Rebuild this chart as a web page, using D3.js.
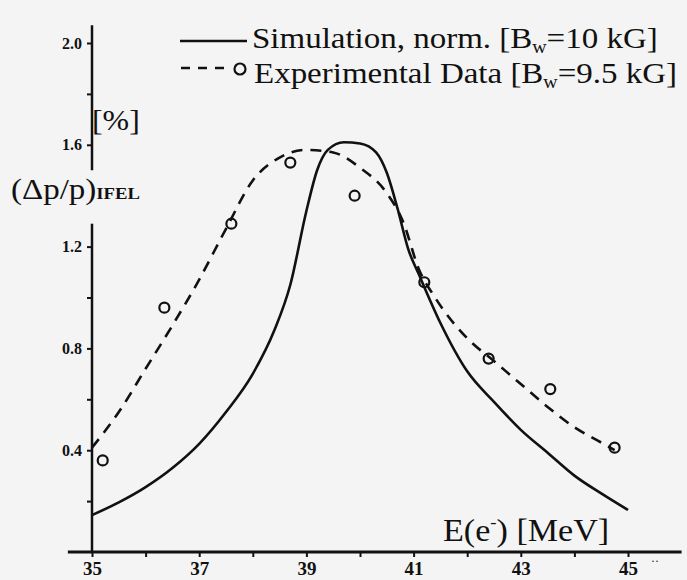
<!DOCTYPE html>
<html>
<head>
<meta charset="utf-8">
<script src="https://cdn.jsdelivr.net/npm/d3@7"></script>
<style>
    body { margin: 0; background: #f4f4f4; }
    svg { display: block; }
    text { font-family: "Liberation Serif", "Times New Roman", serif; fill: #111; }
</style>
</head>
<body>
<div id="chart"></div>
<script>
// --- DATA ---

// Simulation, normalised (solid line)
const simEnergy = [35.0, 35.5, 36.0, 36.5, 37.0, 37.5, 38.0, 38.4, 38.7, 39.0, 39.2, 39.4, 39.7, 40.0, 40.3, 40.5, 40.7, 40.9, 41.1, 41.5, 42.0, 42.5, 43.0, 43.5, 44.0, 44.5, 45.0];
const simGain   = [0.145, 0.195, 0.255, 0.33, 0.425, 0.55, 0.70, 0.87, 1.05, 1.34, 1.50, 1.58, 1.61, 1.605, 1.57, 1.49, 1.35, 1.19, 1.09, 0.90, 0.71, 0.59, 0.48, 0.39, 0.30, 0.23, 0.165];

// Fit through the experimental data (dashed line)
const fitEnergy = [35.0, 35.5, 36.0, 36.5, 37.0, 37.5, 38.0, 38.5, 39.0, 39.5, 40.0, 40.5, 40.8, 41.1, 41.4, 42.0, 42.5, 43.0, 43.5, 44.0, 44.5, 44.75];
const fitGain   = [0.41, 0.55, 0.72, 0.89, 1.07, 1.27, 1.46, 1.55, 1.58, 1.57, 1.51, 1.41, 1.30, 1.11, 1.00, 0.84, 0.75, 0.66, 0.57, 0.49, 0.43, 0.40];

// Experimental points (circles)
const expEnergy = [35.2, 36.35, 37.6, 38.7, 39.9, 41.2, 42.4, 43.55, 44.75];
const expGain   = [0.36, 0.96, 1.29, 1.53, 1.40, 1.06, 0.76, 0.64, 0.41];

// Tick values
const xTicks = [35, 36, 37, 38, 39, 40, 41, 42, 43, 44, 45];
const xLabels = [35, 37, 39, 41, 43, 45];
const yTicks = [0.2, 0.4, 0.6, 0.8, 1.0, 1.2, 1.4, 1.6, 1.8, 2.0];
const yLabels = [0.4, 0.8, 1.2, 1.6, 2.0];

// --- DRAWING ---

const width = 687, height = 580;
const bg = "#f4f4f4";
const ink = "#111";
const stretch = 1.1; // the scanned lettering is a bit wider than the font

const svg = d3.select("#chart").append("svg")
    .attr("width", width)
    .attr("height", height)
;
svg.append("rect").attr("width", width).attr("height", height).attr("fill", bg);

// Text placed at (px, py), widened horizontally like the scan
function wideText(px, py, size) {
    return svg.append("g")
        .attr("transform", "translate(" + px + "," + py + ") scale(" + stretch + ",1)")
        .append("text")
        .style("font-size", size + "px")
    ;
}

// Scales
const x = d3.scaleLinear().domain([35, 45]).range([92, 628]);
const y = d3.scaleLinear().domain([0, 2]).range([552, 43]);

// X axis
const xAxisG = svg.append("g")
    .attr("transform", "translate(0," + y(0) + ")")
    .call(d3.axisBottom(x)
        .tickValues(xTicks)
        .tickSize(5)
        .tickFormat(d => xLabels.includes(d) ? d : ""))
;
xAxisG.select(".domain").remove();
xAxisG.append("line")
    .attr("x1", x(34.55)).attr("x2", x(46.0))
    .attr("stroke", ink).attr("stroke-width", 3)
;
xAxisG.selectAll(".tick line").attr("stroke", ink).attr("stroke-width", 2);
xAxisG.selectAll(".tick text")
    .attr("y", 10)
    .attr("fill", ink)
    .style("font-size", "19px")
    .style("font-weight", "bold")
    .style("font-family", "'Liberation Serif', serif")
;

// Y axis
const yAxisG = svg.append("g")
    .attr("transform", "translate(" + x(35) + ",0)")
    .call(d3.axisLeft(y)
        .tickValues(yTicks)
        .tickSize(5)
        .tickFormat(d => yLabels.some(v => Math.abs(v - d) < 1e-6) ? d3.format(".1f")(d) : ""))
;
yAxisG.select(".domain").remove();
yAxisG.append("line")
    .attr("y1", y(0)).attr("y2", y(2.07))
    .attr("stroke", ink).attr("stroke-width", 2.5)
;
yAxisG.selectAll(".tick line").attr("stroke", ink).attr("stroke-width", 2);
yAxisG.selectAll(".tick text")
    .attr("x", -10)
    .attr("fill", ink)
    .style("font-size", "16px")
    .style("font-weight", "bold")
    .style("font-family", "'Liberation Serif', serif")
;

// Y axis title, its background cuts the axis line like in the scan
svg.append("rect")
    .attr("x", x(35) - 6).attr("y", y(1.5)).attr("width", 12).attr("height", y(1.29) - y(1.5))
    .attr("fill", bg)
;
const yTitle = wideText(11, 199, 30);
yTitle.append("tspan").text("(Δp/p)");
yTitle.append("tspan").text("IFEL")
    .style("font-size", "17px")
    .style("font-weight", "bold")
;
wideText(92, 130, 29).text("[%]");

// X axis title
const xTitle = wideText(443, 541, 31);
xTitle.append("tspan").text("E(e");
xTitle.append("tspan").text("-").attr("dy", -13).style("font-size", "17px");
xTitle.append("tspan").text(") [MeV]").attr("dy", 13);

svg.append("text")
    .attr("x", 651).attr("y", 565)
    .style("font-size", "12px")
    .text("··")
;

// Curves
const simLine = d3.line()
    .x((d, i) => x(simEnergy[i]))
    .y(d => y(d))
    .curve(d3.curveMonotoneX)
;
const fitLine = d3.line()
    .x((d, i) => x(fitEnergy[i]))
    .y(d => y(d))
    .curve(d3.curveMonotoneX)
;

svg.append("path")
    .attr("d", simLine(simGain))
    .attr("fill", "none")
    .attr("stroke", ink)
    .attr("stroke-width", 2.6)
;
svg.append("path")
    .attr("d", fitLine(fitGain))
    .attr("fill", "none")
    .attr("stroke", ink)
    .attr("stroke-width", 2.6)
    .attr("stroke-dasharray", "11,8")
;

// Experimental points
svg.selectAll(".markerCircle")
    .data(expGain)
    .join("circle")
    .attr("class", "markerCircle")
    .attr("cx", (d, i) => x(expEnergy[i]))
    .attr("cy", d => y(d))
    .attr("r", 5)
    .attr("fill", "none")
    .attr("stroke", ink)
    .attr("stroke-width", 2.2)
;

// --- LEGEND ---

const legend = svg.append("g");
legend.append("line")
    .attr("x1", 180).attr("x2", 247).attr("y1", 41).attr("y2", 41)
    .attr("stroke", ink).attr("stroke-width", 2.6)
;
const l1 = wideText(252, 48, 30);
l1.append("tspan").text("Simulation, norm. [B");
l1.append("tspan").text("w").attr("dy", 5).style("font-size", "18px");
l1.append("tspan").text("=10 kG]").attr("dy", -5);

legend.append("line")
    .attr("x1", 181).attr("x2", 231).attr("y1", 68).attr("y2", 68)
    .attr("stroke", ink).attr("stroke-width", 2.6)
    .attr("stroke-dasharray", "9,8")
;
legend.append("circle")
    .attr("cx", 240).attr("cy", 69).attr("r", 5.5)
    .attr("fill", "none").attr("stroke", ink).attr("stroke-width", 2.2)
;
const l2 = wideText(254, 83, 30);
l2.append("tspan").text("Experimental Data [B");
l2.append("tspan").text("w").attr("dy", 5).style("font-size", "18px");
l2.append("tspan").text("=9.5 kG]").attr("dy", -5);
</script>
</body>
</html>
